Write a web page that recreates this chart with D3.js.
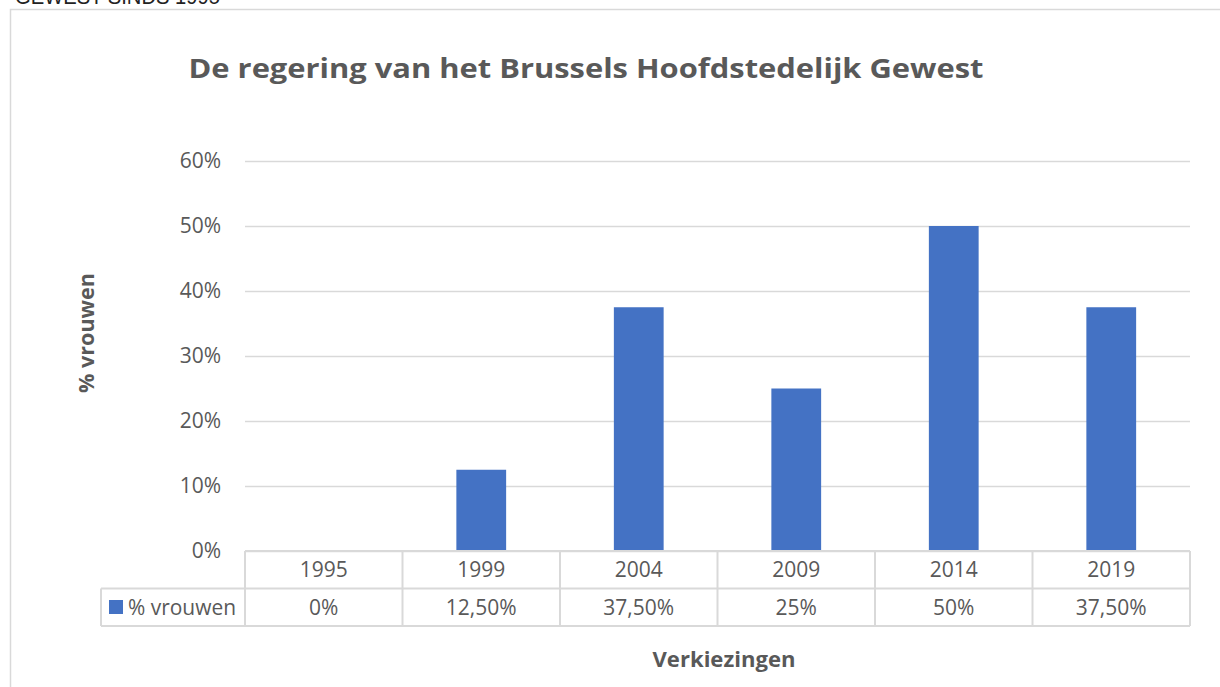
<!DOCTYPE html>
<html><head><meta charset="utf-8">
<script src="https://cdn.jsdelivr.net/npm/d3@7"></script>
<style>body{margin:0;background:#fff;}svg{display:block;}</style>
</head><body>
<svg id="c" width="1220" height="687"></svg>
<script>
const categories = ["1995","1999","2004","2009","2014","2019"];
const values = [0, 0.125, 0.375, 0.25, 0.5, 0.375];
const valueLabels = ["0%","12,50%","37,50%","25%","50%","37,50%"];
const yTicks = [0,0.1,0.2,0.3,0.4,0.5,0.6];
const seriesName = "% vrouwen";
const title = "De regering van het Brussels Hoofdstedelijk Gewest";
const xTitle = "Verkiezingen";
const yTitle = "% vrouwen";
const topText = "GEWEST SINDS 1995";

const svg = d3.select("#c");
const font = "'Open Sans', sans-serif";
const grey = "#595959", gridC = "#d9d9d9", barC = "#4472c4";

// cut-off text at top (page text above the chart)
svg.append("text").attr("x",15).attr("y",4).attr("font-family","'Liberation Sans', sans-serif")
  .attr("font-size",22).attr("fill","#222").attr("textLength",205).attr("lengthAdjust","spacingAndGlyphs").text(topText);

// chart border
svg.append("path").attr("d","M10.5,687 V9.5 H1220").attr("fill","none").attr("stroke","#d9d9d9").attr("stroke-width",1.5);

const L=245, R=1190, T=161, B=551;
const x = d3.scaleBand().domain(categories).range([L,R]).paddingInner(0.684).paddingOuter(0.342);
const xc = d3.scaleBand().domain(categories).range([L,R]);
const y = d3.scaleLinear().domain([0,0.6]).range([B,T]);

// gridlines
svg.append("g").selectAll("line").data(yTicks).join("line")
  .attr("x1",L).attr("x2",R).attr("y1",d=>Math.round(y(d))+0.5).attr("y2",d=>Math.round(y(d))+0.5)
  .attr("stroke",gridC).attr("stroke-width",1.5);

// y tick labels
svg.append("g").selectAll("text").data(yTicks).join("text")
  .attr("x",221).attr("y",d=>y(d)).attr("dy","0.35em").attr("text-anchor","end")
  .attr("font-family",font).attr("font-size",21).attr("fill",grey).text(d3.format(".0%"));

// bars
svg.append("g").selectAll("rect").data(values).join("rect")
  .attr("x",(d,i)=>x(categories[i])).attr("width",x.bandwidth())
  .attr("y",d=>y(d)).attr("height",d=>B-y(d)).attr("fill",barC);

// data table
const r1=551, r2=588.5, r3=626, tL=101;
const tg = svg.append("g").attr("stroke",gridC).attr("stroke-width",2).attr("fill","none");
tg.append("line").attr("x1",L).attr("x2",R).attr("y1",r1).attr("y2",r1);
tg.append("line").attr("x1",tL).attr("x2",R).attr("y1",r2).attr("y2",r2);
tg.append("line").attr("x1",tL).attr("x2",R).attr("y1",r3).attr("y2",r3);
tg.append("line").attr("x1",tL).attr("x2",tL).attr("y1",r2).attr("y2",r3);
tg.selectAll("line.v").data(categories.concat(["end"])).join("line").attr("class","v")
  .attr("x1",(d,i)=>i<categories.length?xc(d):R).attr("x2",(d,i)=>i<categories.length?xc(d):R)
  .attr("y1",r1).attr("y2",r3);

svg.append("g").selectAll("text").data(categories).join("text")
  .attr("x",d=>xc(d)+xc.bandwidth()/2).attr("y",(r1+r2)/2).attr("dy","0.35em").attr("text-anchor","middle")
  .attr("font-family",font).attr("font-size",21).attr("fill",grey).text(d=>d);
svg.append("g").selectAll("text").data(valueLabels).join("text")
  .attr("x",(d,i)=>xc(categories[i])+xc.bandwidth()/2).attr("y",(r2+r3)/2).attr("dy","0.35em").attr("text-anchor","middle")
  .attr("font-family",font).attr("font-size",21).attr("fill",grey).text(d=>d);

// legend key in table
svg.append("rect").attr("x",109).attr("y",600).attr("width",14).attr("height",14).attr("fill",barC);
svg.append("text").attr("x",128).attr("y",(r2+r3)/2).attr("dy","0.35em")
  .attr("font-family",font).attr("font-size",21).attr("fill",grey)
  .attr("textLength",108).attr("lengthAdjust","spacingAndGlyphs").text(seriesName);

// title
svg.append("text").attr("x",586).attr("y",78).attr("text-anchor","middle")
  .attr("font-family",font).attr("font-weight","bold").attr("font-size",26).attr("fill",grey)
  .attr("textLength",795).attr("lengthAdjust","spacingAndGlyphs").text(title);

// axis titles
svg.append("text").attr("x",724).attr("y",667).attr("text-anchor","middle")
  .attr("font-family",font).attr("font-weight","bold").attr("font-size",21).attr("fill",grey)
  .attr("textLength",143).attr("lengthAdjust","spacingAndGlyphs").text(xTitle);
svg.append("text").attr("transform","translate(94,333) rotate(-90)").attr("text-anchor","middle")
  .attr("font-family",font).attr("font-weight","bold").attr("font-size",21).attr("fill",grey)
  .attr("textLength",120).attr("lengthAdjust","spacingAndGlyphs").text(yTitle);
</script>
</body></html>
